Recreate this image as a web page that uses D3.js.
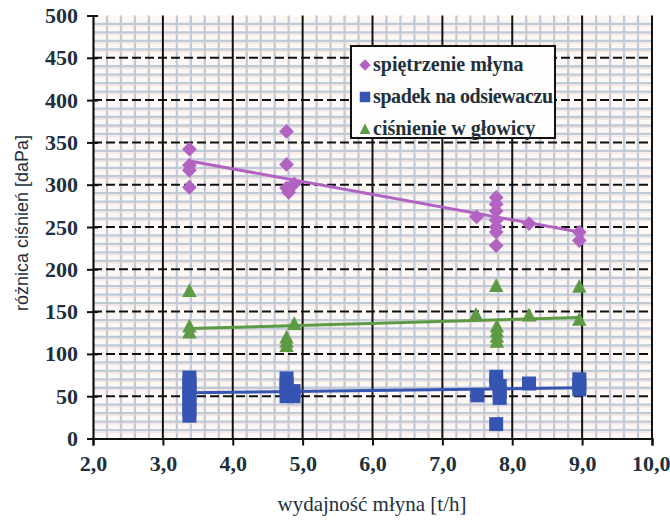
<!DOCTYPE html>
<html>
<head>
<meta charset="utf-8">
<script src="https://cdn.jsdelivr.net/npm/d3@7"></script>
<style>
  html, body { margin: 0; padding: 0; background: #fff; }
  svg { display: block; }
</style>
</head>
<body>
<div id="chart"></div>
<script>
// Values
const xTicks = [2, 3, 4, 5, 6, 7, 8, 9, 10]
const yTicks = [0, 50, 100, 150, 200, 250, 300, 350, 400, 450, 500]

const spietrzenieX = [3.38, 3.38, 3.38, 3.38, 4.77, 4.77, 4.77, 4.80, 4.88, 7.49,
  7.77, 7.77, 7.77, 7.77, 7.77, 7.77, 7.77, 8.24, 8.96, 8.96]
const spietrzenieY = [342, 323, 317, 297, 363, 324, 296, 291, 301, 262,
  285, 277, 269, 258, 250, 244, 228, 254, 244, 234]

const spadekX = [3.38, 3.38, 3.38, 3.38, 3.38, 3.38, 3.38, 3.38, 4.77, 4.77, 4.77, 4.77,
  4.87, 4.87, 7.50, 7.77, 7.77, 7.82, 7.82, 7.82, 7.77, 8.24, 8.96, 8.96, 8.96]
const spadekY = [72, 66, 60, 54, 48, 42, 34, 27, 71, 64, 57, 50,
  56, 50, 51, 73, 66, 62, 55, 48, 17, 65, 70, 64, 58]

const cisnienieX = [3.38, 3.38, 3.38, 4.77, 4.77, 4.77, 4.88, 7.48,
  7.77, 7.78, 7.78, 7.78, 7.78, 8.24, 8.96, 8.96]
const cisnienieY = [175, 133, 126, 120, 115, 110, 136, 147,
  181, 133, 127, 121, 115, 146, 180, 141]

// trend lines: [start x, end x] and [start y, end y]
const trendX = [3.38, 8.96]
const trendSpietrzenie = [328, 244]
const trendSpadek = [54, 60]
const trendCisnienie = [130, 143]

const seriesNames = ["spiętrzenie młyna", "spadek na odsiewaczu", "ciśnienie w głowicy"]

const width = 670
const height = 526
const ink = "#1d303b"
const serif = "\"Liberation Serif\""
const sans = "\"Liberation Sans\""
const colors = { purple: "#b263c2", blue: "#3654b2", green: "#5c9a45" }

const svg = d3.select("#chart").append("svg")
  .attr("width", width)
  .attr("height", height)

const x = d3.scaleLinear().domain([2, 10]).range([93, 652])
const y = d3.scaleLinear().domain([0, 500]).range([438.5, 15.5])

// plot background
svg.append("rect")
  .attr("x", x(2)).attr("y", y(500))
  .attr("width", x(10) - x(2)).attr("height", y(0) - y(500))
  .attr("fill", "#fdf8f6")

// minor grid (graph paper look)
const minorX = d3.range(2.2, 10, 0.2).filter(v => Math.abs(v - Math.round(v)) > 0.01)
const minorY = d3.range(10, 500, 10).filter(v => v % 50 !== 0)

const minor = svg.append("g")
minor.selectAll(".mx").data(minorX).join("line")
  .attr("x1", d => x(d)).attr("x2", d => x(d))
  .attr("y1", y(500)).attr("y2", y(0))
  .attr("stroke", "#c0cad7").attr("stroke-width", 2.3)
minor.selectAll(".my").data(minorY).join("line")
  .attr("x1", x(2)).attr("x2", x(10))
  .attr("y1", d => y(d)).attr("y2", d => y(d))
  .attr("stroke", "#c0cad7").attr("stroke-width", 2.3)
minor.selectAll(".myp").data(minorY).join("line")
  .attr("x1", x(2)).attr("x2", x(10))
  .attr("y1", d => y(d) + 2.2).attr("y2", d => y(d) + 2.2)
  .attr("stroke", "#f2d8d2").attr("stroke-width", 0.8)

// major grid
svg.append("g").selectAll("line").data(yTicks.filter(v => v > 0 && v < 500)).join("line")
  .attr("x1", x(2)).attr("x2", x(10))
  .attr("y1", d => y(d)).attr("y2", d => y(d))
  .attr("stroke", "#111").attr("stroke-width", 2)
  .attr("stroke-dasharray", "9,4")
svg.append("g").selectAll("line").data(xTicks.filter(v => v > 2)).join("line")
  .attr("x1", d => x(d)).attr("x2", d => x(d))
  .attr("y1", y(500)).attr("y2", y(0))
  .attr("stroke", "#111").attr("stroke-width", 2)

// axes
const yAxis = svg.append("g")
  .attr("transform", `translate(${x(2)},0)`)
  .call(d3.axisLeft(y).tickValues(yTicks).tickSize(6).tickPadding(9).tickFormat(d3.format("d")))
const xAxis = svg.append("g")
  .attr("transform", `translate(0,${y(0)})`)
  .call(d3.axisBottom(x).tickValues(xTicks).tickSize(7).tickPadding(10)
    .tickFormat(d => d3.format(".1f")(d).replace(".", ",")))

;[yAxis, xAxis].forEach(ax => {
  ax.select(".domain").attr("stroke", "#111").attr("stroke-width", 2.2)
  ax.selectAll(".tick line").attr("stroke", "#111").attr("stroke-width", 2)
  ax.selectAll("text")
    .attr("fill", ink)
    .style("font-family", serif)
    .style("font-size", "22px")
    .style("font-weight", "bold")
})
// ticks cross the y axis a little
yAxis.selectAll(".tick line").attr("x1", 5)
// last x label sits against the right edge
xAxis.selectAll(".tick text").filter(d => d === 10)
  .attr("text-anchor", "end").attr("dx", 18)

// markers
const diamond = {
  draw(ctx, size) {
    const r = Math.sqrt(size) / 2
    ctx.moveTo(0, -r); ctx.lineTo(r, 0); ctx.lineTo(0, r); ctx.lineTo(-r, 0); ctx.closePath()
  }
}
const square = {
  draw(ctx, size) {
    const r = Math.sqrt(size) / 2
    ctx.rect(-r, -r, 2 * r, 2 * r)
  }
}
const triangle = {
  draw(ctx, size) {
    const r = Math.sqrt(size) / 2
    ctx.moveTo(0, -r); ctx.lineTo(r, r * 0.9); ctx.lineTo(-r, r * 0.9); ctx.closePath()
  }
}

function drawSeries(xs, ys, type, size, color) {
  svg.append("g").selectAll("path").data(xs).join("path")
    .attr("transform", (d, i) => `translate(${x(d)},${y(ys[i])})`)
    .attr("d", d3.symbol().type(type).size(size))
    .attr("fill", color)
}

drawSeries(spietrzenieX, spietrzenieY, diamond, 220, colors.purple)
drawSeries(spadekX, spadekY, square, 196, colors.blue)
drawSeries(cisnienieX, cisnienieY, triangle, 210, colors.green)

// trend lines
function drawTrend(ys, color) {
  svg.append("line")
    .attr("x1", x(trendX[0])).attr("x2", x(trendX[1]))
    .attr("y1", y(ys[0])).attr("y2", y(ys[1]))
    .attr("stroke", color).attr("stroke-width", 3)
}
drawTrend(trendSpietrzenie, colors.purple)
drawTrend(trendSpadek, colors.blue)
drawTrend(trendCisnienie, colors.green)

// legend
const legend = svg.append("g").attr("transform", "translate(351,46)")
legend.append("rect")
  .attr("width", 204).attr("height", 92)
  .attr("fill", "#fffdfc").attr("stroke", "#111").attr("stroke-width", 2)

const legendTypes = [diamond, square, triangle]
const legendColors = [colors.purple, colors.blue, colors.green]
const legendSizes = [130, 110, 120]
seriesNames.forEach((name, i) => {
  const row = legend.append("g").attr("transform", `translate(0,${19 + i * 32})`)
  row.append("path")
    .attr("transform", "translate(14,0)")
    .attr("d", d3.symbol().type(legendTypes[i]).size(legendSizes[i]))
    .attr("fill", legendColors[i])
  row.append("text")
    .attr("x", 22).attr("y", 6)
    .attr("fill", ink)
    .style("font-family", serif)
    .style("font-size", "20px")
    .style("font-weight", "bold")
    .attr("textLength", i === 1 ? 180 : null)
    .text(name)
})

// axis titles
svg.append("text")
  .attr("x", 372).attr("y", 511)
  .attr("text-anchor", "middle")
  .attr("fill", ink)
  .style("font-family", serif)
  .style("font-size", "21px")
  .text("wydajność młyna [t/h]")

svg.append("text")
  .attr("transform", "translate(28,223) rotate(-90)")
  .attr("text-anchor", "middle")
  .attr("fill", ink)
  .style("font-family", sans)
  .style("font-size", "18px")
  .text("różnica ciśnień [daPa]")
</script>
</body>
</html>
